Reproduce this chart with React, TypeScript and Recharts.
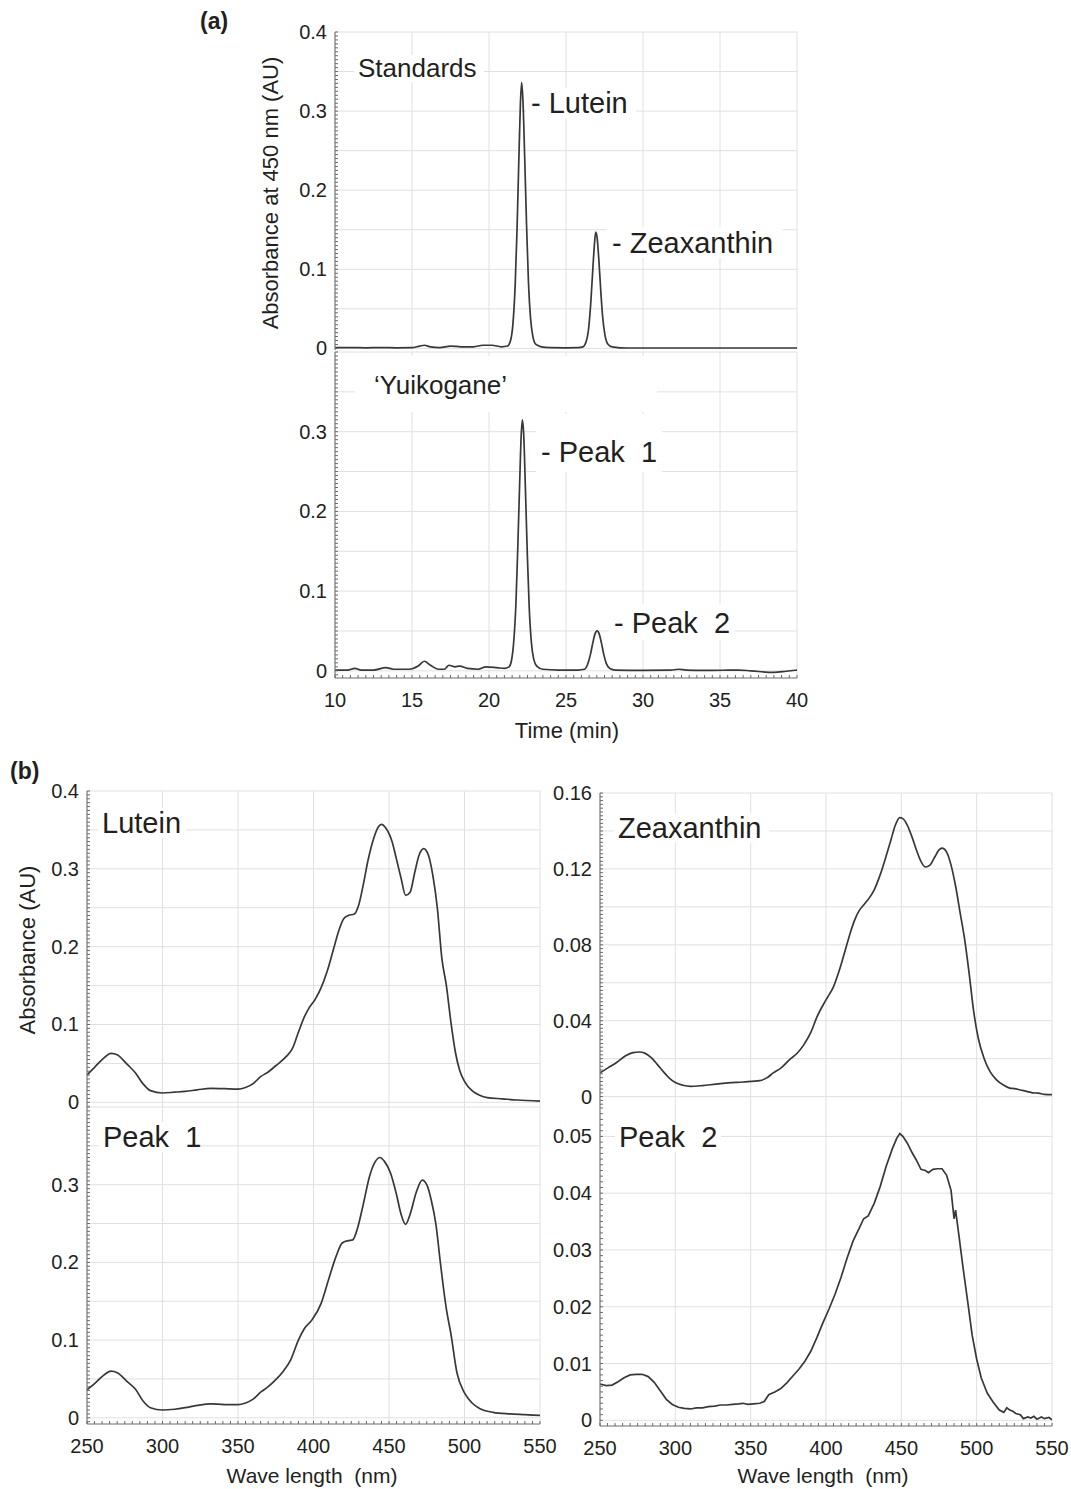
import { CartesianGrid, Line, LineChart, XAxis, YAxis } from "recharts";

// ---- (a) HPLC chromatograms, absorbance at 450 nm ----
const standardsTime = [10, 11, 12, 13, 14, 15, 15.5, 15.8, 16.2, 16.8, 17.5, 18.2, 19.0, 19.6, 20.2, 20.8, 21.2, 21.4, 21.55, 21.7, 21.82, 21.94, 22.04, 22.12, 22.2, 22.32, 22.44, 22.56, 22.7, 22.85, 23.05, 23.4, 24, 25, 25.8, 26.1, 26.3, 26.45, 26.6, 26.72, 26.84, 26.93, 27.02, 27.14, 27.26, 27.38, 27.52, 27.7, 28.0, 29, 32, 36, 40];
const standardsAbs = [0.001, 0.001, 0.0008, 0.001, 0.0008, 0.001, 0.003, 0.004, 0.002, 0.001, 0.003, 0.002, 0.002, 0.004, 0.004, 0.002, 0.003, 0.01, 0.03, 0.08, 0.15, 0.24, 0.31, 0.336, 0.315, 0.24, 0.155, 0.085, 0.038, 0.015, 0.005, 0.002, 0.001, 0.0008, 0.001, 0.002, 0.008, 0.022, 0.055, 0.093, 0.13, 0.147, 0.14, 0.11, 0.072, 0.04, 0.018, 0.006, 0.002, 0.0005, 0.0005, 0.0005, 0.0005];

const yuikoganeTime = [10, 10.8, 11.3, 11.7, 12.5, 13.3, 13.8, 14.8, 15.4, 15.8, 16.2, 16.7, 17.1, 17.4, 17.8, 18.1, 18.6, 19.3, 19.8, 20.5, 21.0, 21.3, 21.45, 21.6, 21.75, 21.87, 21.99, 22.09, 22.17, 22.25, 22.37, 22.49, 22.61, 22.75, 22.9, 23.1, 23.5, 24.5, 25.8, 26.2, 26.4, 26.58, 26.74, 26.88, 27.02, 27.16, 27.3, 27.46, 27.62, 27.85, 28.2, 30, 31.8, 32.3, 32.8, 34, 35.5, 36.2, 37, 38.5, 39.3, 40];
const yuikoganeAbs = [0.001, 0.001, 0.003, 0.001, 0.001, 0.004, 0.002, 0.002, 0.006, 0.012, 0.007, 0.002, 0.002, 0.007, 0.005, 0.006, 0.003, 0.002, 0.005, 0.004, 0.003, 0.005, 0.012, 0.035, 0.085, 0.155, 0.235, 0.295, 0.315, 0.298, 0.225, 0.145, 0.08, 0.036, 0.015, 0.006, 0.002, 0.001, 0.001, 0.002, 0.008, 0.02, 0.035, 0.046, 0.05, 0.046, 0.035, 0.02, 0.009, 0.003, 0.001, 0.0005, 0.0008, 0.002, 0.001, 0.0005, 0.0008, 0.001, 0.0, -0.002, -0.0005, 0.001];

// ---- (b) absorption spectra ----
const luteinNm = [250, 255, 260, 266, 270, 277, 282, 287, 292, 300, 308, 315, 323, 332, 341, 350, 355, 360, 365, 370, 375, 382, 386, 390, 394, 397, 401, 405, 409, 413, 417, 420, 423, 427, 430, 433, 436, 440, 443, 445, 448, 452, 455, 458, 461, 464, 467, 470, 473, 476, 479, 482, 485, 488, 491, 494, 497, 500, 505, 510, 515, 525, 535, 550];
const luteinAbs = [0.035, 0.045, 0.055, 0.063, 0.061, 0.048, 0.038, 0.024, 0.015, 0.012, 0.013, 0.014, 0.016, 0.018, 0.0175, 0.017, 0.019, 0.024, 0.033, 0.039, 0.047, 0.059, 0.069, 0.09, 0.11, 0.121, 0.132, 0.147, 0.168, 0.195, 0.222, 0.236, 0.24, 0.242, 0.254, 0.28, 0.31, 0.34, 0.354, 0.357, 0.352, 0.335, 0.312, 0.288, 0.266, 0.27, 0.295, 0.318, 0.326, 0.318, 0.292, 0.25, 0.185, 0.15, 0.103, 0.064, 0.04, 0.027, 0.015, 0.009, 0.006, 0.0045, 0.003, 0.0015];

const peak1Nm = [250, 255, 260, 266, 270, 277, 282, 287, 292, 300, 308, 315, 323, 332, 341, 350, 355, 360, 365, 370, 375, 380, 385, 390, 394, 399, 405, 410, 415, 419, 423, 426, 429, 433, 437, 441, 444, 447, 451, 455, 458, 461, 464, 468, 472, 475, 478, 481, 484, 486, 488, 491, 495, 500, 505, 510, 519, 530, 540, 550];
const peak1Abs = [0.036, 0.044, 0.053, 0.06, 0.058, 0.046, 0.037, 0.022, 0.013, 0.01, 0.011, 0.013, 0.016, 0.018, 0.017, 0.017, 0.019, 0.024, 0.033, 0.04, 0.049, 0.06, 0.075, 0.1, 0.115, 0.126, 0.147, 0.178, 0.208, 0.225, 0.228, 0.229, 0.243, 0.275, 0.31, 0.33, 0.335, 0.33, 0.315, 0.287, 0.262, 0.249, 0.262, 0.29, 0.306, 0.3, 0.28, 0.25, 0.2, 0.168, 0.14, 0.108, 0.058, 0.032, 0.019, 0.012, 0.007, 0.005, 0.004, 0.003];

const zeaxanthinNm = [250, 255, 261, 267, 272, 276, 280, 284, 288, 292, 296, 300, 305, 310, 318, 327, 335, 345, 356, 361, 365, 370, 376, 381, 385, 390, 394, 400, 405, 409, 412, 416, 419, 422, 425, 429, 432, 436, 440, 443, 446, 449, 451, 454, 457, 460, 463, 466, 469, 472, 475, 477, 480, 483, 486, 489, 492, 495, 498, 501, 505, 509, 513, 518, 522, 525, 529, 533, 537, 541, 545, 550];
const zeaxanthinAbs = [0.0125, 0.015, 0.018, 0.0215, 0.0232, 0.0235, 0.0228, 0.0205, 0.017, 0.0132, 0.0098, 0.0074, 0.006, 0.0054, 0.0058, 0.0066, 0.0072, 0.0077, 0.0084, 0.01, 0.0125, 0.015, 0.0196, 0.023, 0.027, 0.034, 0.042, 0.051, 0.058, 0.067, 0.075, 0.086, 0.093, 0.098, 0.101, 0.105, 0.109, 0.117, 0.127, 0.135, 0.143, 0.147, 0.1465, 0.143, 0.137, 0.13, 0.124, 0.121, 0.122, 0.126, 0.13, 0.131, 0.129, 0.122, 0.111, 0.097, 0.083, 0.065, 0.045, 0.031, 0.02, 0.013, 0.009, 0.006, 0.0045, 0.0042, 0.0035, 0.0028, 0.002, 0.0018, 0.0012, 0.001];

const peak2Nm = [250, 254, 258, 262, 266, 270, 274, 278, 282, 286, 290, 294, 298, 302, 306, 310, 314, 318, 322, 326, 330, 334, 338, 342, 345, 348, 352, 356, 359, 362, 366, 370, 374, 378, 382, 386, 390, 394, 398, 402, 406, 410, 414, 418, 422, 425, 428, 432, 436, 440, 444, 447, 449, 451, 454, 457, 460, 463, 466, 468, 471, 474, 477, 480, 483, 485, 486, 488, 491, 494, 497, 500, 503, 507, 511, 515, 518, 520, 522, 524, 526, 529, 531, 534, 536, 538, 540, 543, 545, 548, 550];
const peak2Abs = [0.0064, 0.0061, 0.0062, 0.0068, 0.0075, 0.008, 0.0081, 0.0081, 0.0077, 0.0067, 0.0052, 0.0037, 0.0028, 0.0023, 0.0021, 0.002, 0.0022, 0.0022, 0.0024, 0.0025, 0.0027, 0.0027, 0.0028, 0.0029, 0.003, 0.0028, 0.0029, 0.003, 0.0033, 0.0045, 0.005, 0.0056, 0.0066, 0.0078, 0.009, 0.0104, 0.0122, 0.0146, 0.0172, 0.0196, 0.0222, 0.0252, 0.0286, 0.0316, 0.0338, 0.0355, 0.036, 0.0382, 0.0412, 0.0448, 0.0478, 0.0497, 0.0505, 0.05, 0.0488, 0.0472, 0.0458, 0.0442, 0.044, 0.0436, 0.0442, 0.0443, 0.0443, 0.0432, 0.0405, 0.0355, 0.037, 0.033, 0.0268, 0.021, 0.015, 0.0108, 0.0075, 0.0048, 0.0032, 0.0018, 0.0014, 0.0022, 0.0018, 0.0016, 0.0012, 0.001, 0.0003, 0.0006, 0.0004, 0.0007, 0.0002, 0.0006, 0.0003, 0.0005, 0.0001];

// tick labels
const timeTicks = [10, 15, 20, 25, 30, 35, 40];
const nmTicks = [250, 300, 350, 400, 450, 500, 550];
const standardsTicks = [0, 0.1, 0.2, 0.3, 0.4];
const yuikoganeTicks = [0, 0.1, 0.2, 0.3];
const luteinTicks = [0, 0.1, 0.2, 0.3, 0.4];
const peak1Ticks = [0, 0.1, 0.2, 0.3];
const zeaxanthinTicks = [0, 0.04, 0.08, 0.12, 0.16];
const peak2Ticks = [0, 0.01, 0.02, 0.03, 0.04, 0.05];

const FONT = "'Liberation Sans', Arial, Helvetica, sans-serif";
const INK = "#231f20";

type Pt = { x: number; y: number };

const zip = (xs: number[], ys: number[]): Pt[] => xs.map((x, i) => ({ x, y: ys[i] }));

function steps(from: number, to: number, step: number) {
  const out: number[] = [];
  const n = Math.round((to - from) / step);
  for (let i = 0; i <= n; i++) out.push(Math.round((from + i * step) * 1e6) / 1e6);
  return out;
}

const has = (list: number[], v: number) => list.some((l) => Math.abs(l - v) < 1e-9);

type PanelProps = {
  data: Pt[];
  box: { left: number; top: number; width: number; height: number };
  xDomain: [number, number];
  yDomain: [number, number];
  xLabels: number[];
  yLabels: number[];
  xMinor: number[];
  yMinor: number[];
  xGrid: number[];
  yGrid: number[];
  showX?: boolean;
  curve?: "monotone" | "linear";
};

// room around the plot so edge tick labels are not clipped by the svg
const PAD_T = 14;
const PAD_R = 26;
const PAD_B = 14;

function Panel({ data, box, xDomain, yDomain, xLabels, yLabels, xMinor, yMinor, xGrid, yGrid, showX = false, curve = "monotone" }: PanelProps) {
  const YW = 70;
  const XH = showX ? 40 : 0;
  const padB = showX ? 0 : PAD_B;
  const blank = () => <g />;
  const xTick = (props: any) => {
    const { x, y, payload } = props;
    if (!showX || !has(xLabels, payload.value)) return <g />;
    return (
      <text x={x} y={y + 29} textAnchor="middle" fontSize={20} fontFamily={FONT} fill={INK}>
        {payload.value}
      </text>
    );
  };
  const yTick = (props: any) => {
    const { x, y, payload } = props;
    if (!has(yLabels, payload.value)) return <g />;
    return (
      <text x={x - 8} y={y + 7} textAnchor="end" fontSize={20} fontFamily={FONT} fill={INK}>
        {payload.value}
      </text>
    );
  };
  const axis = {
    type: "number" as const,
    stroke: "#6a6a6a",
    tickSize: -3,
    tickMargin: 3,
    interval: 0 as const,
    allowDataOverflow: true,
  };

  return (
    <div style={{ position: "absolute", left: box.left - YW, top: box.top - PAD_T }}>
      <LineChart
        width={box.width + YW + PAD_R}
        height={box.height + XH + PAD_T + padB}
        data={data}
        margin={{ top: PAD_T, right: PAD_R, bottom: padB, left: 0 }}
      >
        <CartesianGrid stroke="#e0e0e0" horizontalValues={yGrid} verticalValues={xGrid} />
        <XAxis dataKey="x" {...axis} domain={xDomain} ticks={xMinor} height={XH} tick={xTick} />
        <XAxis xAxisId="top" orientation="top" {...axis} domain={xDomain} ticks={xMinor} height={0} tick={blank} />
        <YAxis {...axis} domain={yDomain} ticks={yMinor} width={YW} tick={yTick} />
        <YAxis yAxisId="right" orientation="right" {...axis} domain={yDomain} ticks={yMinor} width={0} tick={blank} />
        <Line dataKey="y" type={curve} stroke="#383838" strokeWidth={1.7} dot={false} isAnimationActive={false} />
      </LineChart>
    </div>
  );
}

type Note = { text: string; x: number; y: number; size: number; box: [number, number, number, number] };

const notes: Note[] = [
  { text: "Standards", x: 358, y: 77, size: 26, box: [354, 55, 130, 27] },
  { text: "- Lutein", x: 531, y: 113, size: 29, box: [526, 88, 110, 30] },
  { text: "- Zeaxanthin", x: 612, y: 253, size: 29, box: [607, 227, 176, 31] },
  { text: "\u2018Yuikogane\u2019", x: 374, y: 394, size: 26, box: [355, 356, 302, 56] },
  { text: "- Peak  1", x: 541, y: 462, size: 29, box: [536, 414, 126, 58] },
  { text: "- Peak  2", x: 614, y: 633, size: 29, box: [609, 604, 126, 36] },
  { text: "Lutein", x: 102, y: 833, size: 29, box: [98, 808, 88, 30] },
  { text: "Peak  1", x: 103, y: 1147, size: 29, box: [99, 1122, 101, 30] },
  { text: "Zeaxanthin", x: 618, y: 838, size: 29, box: [614, 813, 155, 30] },
  { text: "Peak  2", x: 619, y: 1147, size: 29, box: [615, 1122, 106, 30] },
];

export default function App() {
  const nmMinor = steps(250, 550, 5);
  return (
    <div style={{ position: "absolute", left: 0, top: 0, width: 1071, height: 1489, background: "#fff" }}>
      <Panel
        data={zip(standardsTime, standardsAbs)}
        box={{ left: 335, top: 32, width: 462, height: 318 }}
        xDomain={[10, 40]}
        yDomain={[-0.002, 0.4]}
        xLabels={timeTicks}
        yLabels={standardsTicks}
        xMinor={steps(10, 40, 0.5)}
        yMinor={steps(0, 0.4, 0.005)}
        xGrid={timeTicks}
        yGrid={steps(0, 0.4, 0.05)}
      />
      <Panel
        data={zip(yuikoganeTime, yuikoganeAbs)}
        box={{ left: 335, top: 352, width: 462, height: 326 }}
        xDomain={[10, 40]}
        yDomain={[-0.009, 0.4]}
        xLabels={timeTicks}
        yLabels={yuikoganeTicks}
        xMinor={steps(10, 40, 0.5)}
        yMinor={steps(-0.005, 0.4, 0.005)}
        xGrid={timeTicks}
        yGrid={steps(0, 0.4, 0.05)}
        showX
      />
      <Panel
        data={zip(luteinNm, luteinAbs)}
        box={{ left: 87, top: 791, width: 453, height: 316 }}
        xDomain={[250, 550]}
        yDomain={[-0.006, 0.4]}
        xLabels={nmTicks}
        yLabels={luteinTicks}
        xMinor={nmMinor}
        yMinor={steps(-0.005, 0.4, 0.005)}
        xGrid={nmTicks}
        yGrid={steps(0, 0.4, 0.05)}
      />
      <Panel
        data={zip(peak1Nm, peak1Abs)}
        box={{ left: 87, top: 1107, width: 453, height: 317 }}
        xDomain={[250, 550]}
        yDomain={[-0.008, 0.4]}
        xLabels={nmTicks}
        yLabels={peak1Ticks}
        xMinor={nmMinor}
        yMinor={steps(-0.005, 0.4, 0.005)}
        xGrid={nmTicks}
        yGrid={steps(0, 0.4, 0.05)}
        showX
      />
      <Panel
        data={zip(zeaxanthinNm, zeaxanthinAbs)}
        box={{ left: 600, top: 793, width: 452, height: 315 }}
        xDomain={[250, 550]}
        yDomain={[-0.006, 0.16]}
        xLabels={nmTicks}
        yLabels={zeaxanthinTicks}
        xMinor={nmMinor}
        yMinor={steps(-0.004, 0.16, 0.002)}
        xGrid={nmTicks}
        yGrid={steps(0, 0.16, 0.02)}
      />
      <Panel
        data={zip(peak2Nm, peak2Abs)}
        box={{ left: 600, top: 1108, width: 452, height: 318 }}
        xDomain={[250, 550]}
        yDomain={[-0.001, 0.055]}
        xLabels={nmTicks}
        yLabels={peak2Ticks}
        xMinor={nmMinor}
        yMinor={steps(0, 0.055, 0.001)}
        xGrid={nmTicks}
        yGrid={steps(0, 0.05, 0.01)}
        showX
        curve="linear"
      />

      <svg width={1071} height={1489} style={{ position: "absolute", left: 0, top: 0, pointerEvents: "none" }}>
        {notes.map((n) => (
          <g key={n.text}>
            <rect x={n.box[0]} y={n.box[1]} width={n.box[2]} height={n.box[3]} fill="#fff" />
            <text x={n.x} y={n.y} fontSize={n.size} fontFamily={FONT} fill={INK} style={{ whiteSpace: "pre" }}>
              {n.text}
            </text>
          </g>
        ))}
        <text x={200} y={29} fontSize={23} fontWeight="bold" fontFamily={FONT} fill={INK}>
          (a)
        </text>
        <text x={10} y={779} fontSize={23} fontWeight="bold" fontFamily={FONT} fill={INK}>
          (b)
        </text>
        <text x={278} y={193} transform="rotate(-90 278 193)" textAnchor="middle" fontSize={22} fontFamily={FONT} fill={INK}>
          Absorbance at 450 nm (AU)
        </text>
        <text x={35} y={950} transform="rotate(-90 35 950)" textAnchor="middle" fontSize={22} fontFamily={FONT} fill={INK}>
          Absorbance (AU)
        </text>
        <text x={567} y={738} textAnchor="middle" fontSize={22} fontFamily={FONT} fill={INK}>
          Time (min)
        </text>
        <text x={312} y={1483} textAnchor="middle" fontSize={21} fontFamily={FONT} fill={INK} style={{ whiteSpace: "pre" }}>
          Wave length  (nm)
        </text>
        <text x={823} y={1483} textAnchor="middle" fontSize={21} fontFamily={FONT} fill={INK} style={{ whiteSpace: "pre" }}>
          Wave length  (nm)
        </text>
      </svg>
    </div>
  );
}
